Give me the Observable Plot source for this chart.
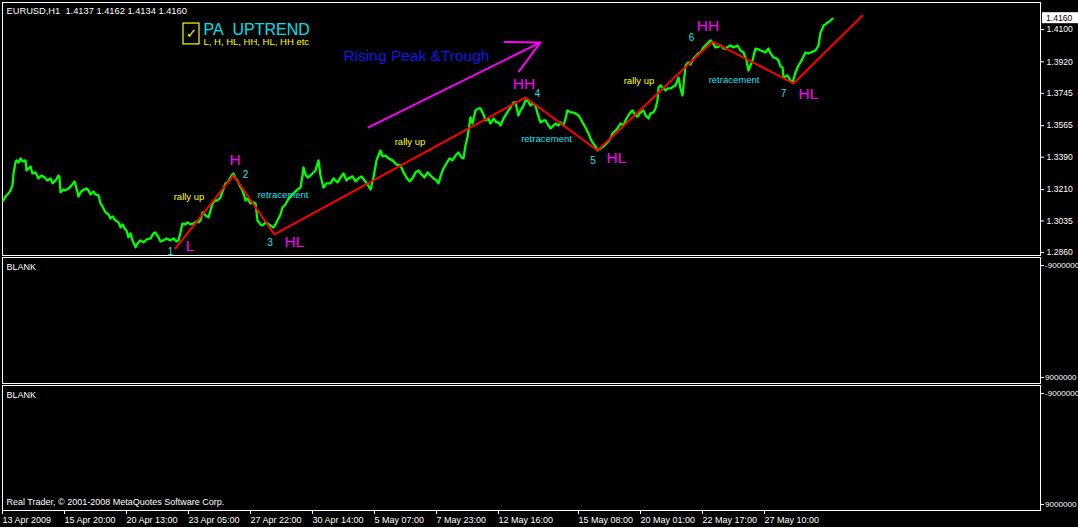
<!DOCTYPE html>
<html><head><meta charset="utf-8">
<script src="https://cdn.jsdelivr.net/npm/d3@7"></script>
<script src="https://cdn.jsdelivr.net/npm/@observablehq/plot@0.6"></script>
<style>
html,body{margin:0;padding:0;background:#000;overflow:hidden;}
#chart svg{display:block;}
</style></head><body><div id="chart"></div>
<script>
// ---- data: EURUSD H1 close trace, [bar index, close] ----
const closeTrace = [
[1,1.3149],[3,1.3171],[6,1.3188],[8,1.3205],[10,1.3233],[11,1.3299],[13,1.3360],[14,1.3372],[16,1.3360],[18,1.3383],
[20,1.3366],[23,1.3372],[24,1.3316],[26,1.3327],[28,1.3338],[30,1.3299],[33,1.3305],[36,1.3272],[39,1.3288],[42,1.3277],
[45,1.3260],[48,1.3272],[50,1.3244],[53,1.3260],[56,1.3288],[57,1.3277],[58,1.3194],[61,1.3210],[63,1.3205],[66,1.3216],
[69,1.3233],[72,1.3255],[74,1.3216],[76,1.3171],[78,1.3194],[80,1.3205],[82,1.3210],[84,1.3216],[86,1.3205],[88,1.3183],
[91,1.3199],[93,1.3183],[96,1.3177],[98,1.3133],[100,1.3116],[103,1.3083],[106,1.3071],[108,1.3049],[110,1.3060],[113,1.3038],
[116,1.3027],[118,1.2999],[120,1.3016],[122,1.2994],[124,1.2982],[126,1.2944],[128,1.2966],[130,1.2927],[133,1.2888],[135,1.2910],
[138,1.2927],[141,1.2916],[144,1.2932],[148,1.2938],[151,1.2966],[153,1.2971],[156,1.2944],[158,1.2921],[161,1.2927],[164,1.2938],
[168,1.2927],[171,1.2938],[174,1.2921],[176,1.2927],[178,1.2971],[180,1.3021],[183,1.3016],[185,1.3027],[188,1.3016],[191,1.3021],
[194,1.3032],[196,1.3027],[198,1.3038],[200,1.3083],[203,1.3066],[206,1.3055],[208,1.3094],[210,1.3133],[213,1.3149],[215,1.3149],
[218,1.3166],[220,1.3199],[223,1.3244],[225,1.3249],[228,1.3277],[230,1.3294],[231,1.3299],[233,1.3272],[235,1.3260],[237,1.3233],
[240,1.3205],[242,1.3171],[243,1.3149],[245,1.3160],[248,1.3133],[251,1.3138],[253,1.3133],[255,1.3038],[258,1.3016],[260,1.3010],
[263,1.3027],[265,1.3021],[268,1.3010],[271,1.2999],[273,1.3016],[275,1.3038],[278,1.3071],[280,1.3110],[283,1.3127],[285,1.3149],
[288,1.3171],[291,1.3188],[294,1.3205],[298,1.3221],[300,1.3288],[301,1.3333],[303,1.3294],[305,1.3277],[308,1.3288],[310,1.3299],
[313,1.3316],[316,1.3372],[318,1.3288],[321,1.3221],[324,1.3244],[328,1.3244],[331,1.3272],[335,1.3249],[338,1.3277],[341,1.3299],
[344,1.3260],[346,1.3272],[350,1.3283],[353,1.3255],[356,1.3272],[359,1.3283],[362,1.3260],[365,1.3238],[368,1.3210],[371,1.3277],
[374,1.3372],[376,1.3399],[378,1.3427],[380,1.3394],[383,1.3399],[386,1.3383],[390,1.3372],[394,1.3349],[398,1.3344],[401,1.3305],
[404,1.3277],[407,1.3255],[410,1.3272],[413,1.3305],[416,1.3316],[419,1.3294],[422,1.3277],[425,1.3305],[428,1.3288],[431,1.3272],
[434,1.3260],[436,1.3244],[438,1.3283],[441,1.3327],[444,1.3355],[447,1.3383],[450,1.3372],[453,1.3399],[456,1.3416],[459,1.3388],
[461,1.3383],[463,1.3455],[465,1.3500],[468,1.3611],[470,1.3577],[473,1.3650],[476,1.3661],[478,1.3661],[481,1.3627],[483,1.3594],
[486,1.3605],[488,1.3577],[491,1.3605],[494,1.3583],[496,1.3583],[498,1.3566],[501,1.3605],[503,1.3622],[506,1.3650],[508,1.3666],
[511,1.3694],[513,1.3694],[516,1.3622],[518,1.3650],[521,1.3677],[523,1.3705],[525,1.3705],[528,1.3677],[530,1.3689],[533,1.3677],
[535,1.3633],[538,1.3583],[541,1.3594],[543,1.3594],[546,1.3566],[548,1.3550],[551,1.3566],[553,1.3577],[556,1.3566],[558,1.3583],
[561,1.3566],[563,1.3605],[565,1.3650],[568,1.3639],[570,1.3639],[573,1.3633],[576,1.3622],[578,1.3605],[580,1.3583],[583,1.3555],
[586,1.3522],[588,1.3494],[590,1.3472],[593,1.3449],[595,1.3427],[598,1.3438],[601,1.3449],[605,1.3472],[608,1.3494],[610,1.3522],
[613,1.3538],[615,1.3550],[618,1.3577],[621,1.3566],[623,1.3594],[626,1.3622],[628,1.3639],[630,1.3650],[633,1.3622],[635,1.3616],
[638,1.3639],[641,1.3650],[643,1.3622],[646,1.3605],[648,1.3633],[651,1.3639],[653,1.3661],[655,1.3705],[656,1.3777],[658,1.3789],
[660,1.3777],[663,1.3761],[665,1.3772],[668,1.3772],[671,1.3783],[673,1.3789],[676,1.3833],[678,1.3772],[680,1.3733],[682,1.3844],
[683,1.3900],[686,1.3917],[688,1.3905],[691,1.3939],[693,1.3950],[696,1.3967],[698,1.3972],[701,1.4000],[704,1.4017],[706,1.4028],
[708,1.4039],[710,1.4028],[713,1.4000],[716,1.4005],[718,1.4011],[721,1.3994],[723,1.3994],[726,1.4005],[728,1.4011],[731,1.4000],
[733,1.4005],[735,1.4011],[738,1.3983],[741,1.3972],[744,1.3928],[746,1.3872],[748,1.3900],[750,1.3928],[753,1.3994],[756,1.3989],
[758,1.3983],[761,1.3978],[763,1.3972],[766,1.3994],[768,1.3967],[771,1.3944],[774,1.3939],[776,1.3928],[778,1.3894],[780,1.3889],
[781,1.3833],[783,1.3839],[785,1.3844],[788,1.3816],[790,1.3805],[793,1.3861],[796,1.3900],[798,1.3917],[800,1.3939],[803,1.3972],
[806,1.3967],[808,1.3972],[811,1.3978],[813,1.3983],[816,1.4011],[818,1.4083],[820,1.4106],[821,1.4122],[823,1.4128],[825,1.4139],
[827,1.4144],[828,1.4150],[830,1.4160]
];
// zigzag (red trend line) pivots
const zigzagBars   = [173, 231, 272, 523, 595, 710, 791, 860];
const zigzagPrices = [1.2882, 1.3288, 1.2960, 1.3722, 1.3427, 1.4033, 1.3800, 1.4178];
// axis ticks
const priceTicks = [1.4100, 1.3920, 1.3745, 1.3565, 1.3390, 1.3210, 1.3035, 1.2860];
const lastPrice = 1.4160;
const headerText = "EURUSD,H1\u00a0\u00a01.4137 1.4162 1.4134 1.4160";
const timeTickBars = [0, 62, 124, 186, 248, 310, 372, 434, 496, 576, 638, 700, 762];
const timeTickLabels = ["13 Apr 2009","15 Apr 20:00","20 Apr 13:00","23 Apr 05:00","27 Apr 22:00","30 Apr 14:00","5 May 07:00","7 May 23:00","12 May 16:00","15 May 08:00","20 May 01:00","22 May 17:00","27 May 10:00"];
const blankTicks = [-9000000, 9000000];
// annotations
const pivotText  = ["L", "H", "HL", "HH", "HL", "HH", "HL"];
const pivotBar   = [187.5, 232.5, 292, 521.5, 614, 705.5, 806];
const pivotPrice = [1.2896, 1.3372, 1.2919, 1.3794, 1.3383, 1.4119, 1.3741];
const numText  = ["1","2","3","4","5","6","7"];
const numBar   = [168, 243, 267.5, 535, 590.5, 689, 781];
const numPrice = [1.2863, 1.3294, 1.2913, 1.3744, 1.3372, 1.4056, 1.3744];
const rallyBar   = [186.5, 407.5, 636.5];
const rallyPrice = [1.3166, 1.3477, 1.3811];
const retrBar    = [280.5, 544, 731.5];
const retrPrice  = [1.3177, 1.3491, 1.3822];
const arrowFrom = [366, 1.3555];
const arrowTo   = [538, 1.4028];
const titleBar = 201, titlePrice = 1.4100, subtitlePrice = 1.4028;
const risingBar = 341, risingPrice = 1.3950;
const checkBox = {b1: 181, b2: 197, p1: 1.4133, p2: 1.4017, cb: 189, cp: 1.4078};

// ---- build tables ----
const series = closeTrace.map(([bar, close]) => ({bar, close}));
const zigzag = zigzagBars.map((bar, i) => ({bar, price: zigzagPrices[i]}));
const pivots = pivotText.map((t, i) => ({t, bar: pivotBar[i], price: pivotPrice[i]}));
const nums = numText.map((t, i) => ({t, bar: numBar[i], price: numPrice[i]}));
const rallies = rallyBar.map((bar, i) => ({t: "rally up", bar, price: rallyPrice[i]}));
const retrs = retrBar.map((bar, i) => ({t: "retracement", bar, price: retrPrice[i]}));
const labelMap = new Map(timeTickBars.map((b, i) => [b, timeTickLabels[i]]));

const FONT = "'Liberation Sans', Arial, sans-serif";
const W = 1078;
const common = {
  width: W, marginLeft: 2, marginRight: 38,
  x: {domain: [0, 1038], axis: null},
  style: {background: "#000", color: "#fff", fontFamily: FONT, fontSize: "9px"}
};
const CYAN = "#22e0ee", MAG = "#ff00ff", YEL = "#ffff00";
const AXF = 8.6, PAXF = 8.1;

const main = Plot.plot({
  ...common, height: 256, marginTop: 2, marginBottom: 1,
  y: {domain: [1.2843, 1.4250]},
  marks: [
    Plot.frame({stroke: "#fff"}),
    Plot.axisY({anchor: "right", ticks: priceTicks, tickFormat: d => d.toFixed(4), tickSize: 3, tickPadding: 3, fill: "#fff", fontSize: AXF}),
    Plot.text([headerText], {frameAnchor: "top-left", dx: 4, dy: 5, fill: "#fff", fontSize: 9.3}),
    Plot.line(series, {x: "bar", y: "close", stroke: "#00ff00", strokeWidth: 2.3}),
    Plot.line(zigzag, {x: "bar", y: "price", stroke: "#ff0000", strokeWidth: 2}),
    Plot.arrow([{x1: arrowFrom[0], y1: arrowFrom[1], x2: arrowTo[0], y2: arrowTo[1]}],
      {x1: "x1", y1: "y1", x2: "x2", y2: "y2", stroke: MAG, strokeWidth: 2, headLength: 27, headAngle: 54}),
    Plot.rect([checkBox], {x1: "b1", x2: "b2", y1: "p1", y2: "p2", stroke: YEL, fill: "none", strokeWidth: 1.2}),
    Plot.text([checkBox], {x: "cb", y: "cp", text: () => "\u2713", fill: YEL, fontSize: 13, fontFamily: "DejaVu Sans"}),
    Plot.text(["PA\u00a0\u00a0UPTREND"], {x: () => titleBar, y: () => titlePrice, textAnchor: "start", fill: "#00e0ea", fontSize: 16}),
    Plot.text(["L, H, HL, HH, HL, HH etc"], {x: () => titleBar, y: () => subtitlePrice, textAnchor: "start", fill: YEL, fontSize: 9.5}),
    Plot.text(["Rising Peak &Trough"], {x: () => risingBar, y: () => risingPrice, textAnchor: "start", fill: "#1616e8", fontSize: 15.5}),
    Plot.text(pivots, {x: "bar", y: "price", text: "t", fill: MAG, fontSize: 15.5}),
    Plot.text(nums, {x: "bar", y: "price", text: "t", fill: CYAN, fontSize: 10}),
    Plot.text(rallies, {x: "bar", y: "price", text: "t", fill: YEL, fontSize: 9.5}),
    Plot.text(retrs, {x: "bar", y: "price", text: "t", fill: CYAN, fontSize: 9.5})
  ]
});

// current price marker on the price axis
{
  const yp = main.scale("y").apply(lastPrice);
  const g = d3.select(main).append("g");
  g.append("rect").attr("x", 1042).attr("y", yp - 6).attr("width", 36).attr("height", 11).attr("fill", "#fff");
  g.append("text").attr("x", 1046).attr("y", yp).attr("dy", "0.32em").attr("fill", "#000")
    .attr("text-anchor", "start").attr("font-size", AXF).attr("font-family", FONT).text(lastPrice.toFixed(4));
}

const p2 = Plot.plot({
  ...common, height: 128, marginTop: 1, marginBottom: 1,
  y: {domain: [-10285714, 9964286], reverse: true},
  marks: [
    Plot.frame({stroke: "#fff"}),
    Plot.axisY({anchor: "right", ticks: blankTicks, tickFormat: d => String(d), tickSize: 3, tickPadding: 1.5, fill: "#fff", fontSize: PAXF}),
    Plot.text(["BLANK"], {frameAnchor: "top-left", lineAnchor: "middle", dx: 4, dy: 10, fill: "#fff", fontSize: 9})
  ]
});

const p3 = Plot.plot({
  ...common, height: 143, marginTop: 1, marginBottom: 17,
  y: {domain: [-10285714, 9964286], reverse: true},
  marks: [
    Plot.frame({stroke: "#fff"}),
    Plot.axisY({anchor: "right", ticks: blankTicks, tickFormat: d => String(d), tickSize: 3, tickPadding: 1.5, fill: "#fff", fontSize: PAXF}),
    Plot.axisX({anchor: "bottom", ticks: timeTickBars, tickFormat: d => labelMap.get(d), tickSize: 4, tickPadding: 2, textAnchor: "start", fill: "#fff", fontSize: 9}),
    Plot.text(["BLANK"], {frameAnchor: "top-left", lineAnchor: "middle", dx: 4, dy: 10, fill: "#fff", fontSize: 9}),
    Plot.text(["Real Trader, \u00a9 2001-2008 MetaQuotes Software Corp."], {frameAnchor: "bottom-left", lineAnchor: "middle", dx: 4, dy: -8, fill: "#fff", fontSize: 9})
  ]
});

const root = document.getElementById("chart");
root.append(main, p2, p3);
</script></body></html>
